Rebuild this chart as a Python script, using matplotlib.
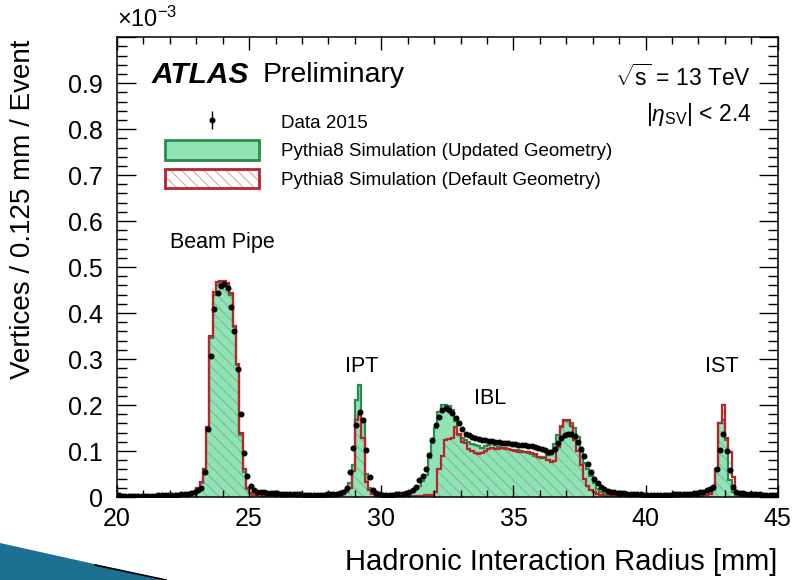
import numpy as np
import matplotlib
matplotlib.use('Agg')
import matplotlib.pyplot as plt
from matplotlib.patches import Patch, Polygon
from matplotlib.lines import Line2D
from matplotlib.ticker import MultipleLocator, FuncFormatter

plt.rcParams['font.family'] = ['Liberation Sans', 'DejaVu Sans']
plt.rcParams['mathtext.fontset'] = 'custom'
plt.rcParams['mathtext.rm'] = 'Liberation Sans'
plt.rcParams['mathtext.it'] = 'Liberation Sans:italic'
plt.rcParams['mathtext.bf'] = 'Liberation Sans:bold'
plt.rcParams['hatch.linewidth'] = 0.8

# 0.125 mm bins between 20 and 45 mm
r_min, r_max, bin_w = 20.0, 45.0, 0.125
edges = np.arange(r_min, r_max + bin_w / 2, bin_w)
centers = 0.5 * (edges[:-1] + edges[1:])

# vertices / 0.125 mm / event, in units of 1e-3
data_2015 = [
    0.004, 0.003, 0.003, 0.003, 0.003, 0.003, 0.003, 0.003, 0.003, 0.003,
    0.003, 0.003, 0.004, 0.004, 0.004, 0.004, 0.005, 0.005, 0.005, 0.006,
    0.006, 0.007, 0.008, 0.012, 0.016, 0.020, 0.055, 0.149, 0.306, 0.408,
    0.443, 0.459, 0.463, 0.454, 0.414, 0.360, 0.278, 0.180, 0.095, 0.045,
    0.024, 0.015, 0.012, 0.011, 0.010, 0.009, 0.009, 0.008, 0.008, 0.007,
    0.007, 0.007, 0.006, 0.006, 0.006, 0.006, 0.005, 0.005, 0.005, 0.005,
    0.005, 0.005, 0.005, 0.006, 0.006, 0.006, 0.007, 0.008, 0.011, 0.019,
    0.055, 0.106, 0.157, 0.185, 0.167, 0.102, 0.044, 0.015, 0.008, 0.006,
    0.005, 0.005, 0.005, 0.005, 0.006, 0.006, 0.007, 0.008, 0.012, 0.015,
    0.022, 0.037, 0.045, 0.060, 0.091, 0.124, 0.157, 0.175, 0.189, 0.193,
    0.189, 0.182, 0.171, 0.160, 0.149, 0.138, 0.134, 0.131, 0.128, 0.126,
    0.124, 0.123, 0.122, 0.121, 0.120, 0.119, 0.118, 0.117, 0.117, 0.116,
    0.115, 0.114, 0.113, 0.113, 0.112, 0.111, 0.109, 0.107, 0.105, 0.102,
    0.099, 0.099, 0.105, 0.118, 0.128, 0.134, 0.138, 0.137, 0.132, 0.120,
    0.104, 0.090, 0.072, 0.055, 0.040, 0.030, 0.022, 0.017, 0.013, 0.011,
    0.010, 0.009, 0.008, 0.008, 0.007, 0.007, 0.006, 0.006, 0.006, 0.005,
    0.005, 0.005, 0.005, 0.005, 0.005, 0.005, 0.005, 0.005, 0.006, 0.006,
    0.006, 0.006, 0.007, 0.007, 0.008, 0.009, 0.010, 0.012, 0.015, 0.018,
    0.022, 0.060, 0.102, 0.138, 0.100, 0.059, 0.022, 0.012, 0.009, 0.008,
    0.007, 0.007, 0.006, 0.006, 0.006, 0.005, 0.005, 0.005, 0.005, 0.005,
]

sim_updated = [
    0.002, 0.002, 0.002, 0.002, 0.002, 0.002, 0.002, 0.002, 0.002, 0.002,
    0.002, 0.002, 0.002, 0.002, 0.002, 0.002, 0.002, 0.002, 0.002, 0.002,
    0.003, 0.004, 0.006, 0.010, 0.018, 0.030, 0.060, 0.148, 0.345, 0.440,
    0.462, 0.465, 0.465, 0.460, 0.440, 0.370, 0.287, 0.135, 0.055, 0.018,
    0.008, 0.005, 0.004, 0.003, 0.003, 0.002, 0.002, 0.002, 0.002, 0.002,
    0.002, 0.002, 0.002, 0.002, 0.002, 0.002, 0.002, 0.002, 0.002, 0.002,
    0.002, 0.002, 0.002, 0.002, 0.002, 0.002, 0.003, 0.004, 0.008, 0.015,
    0.030, 0.070, 0.210, 0.243, 0.170, 0.050, 0.020, 0.008, 0.004, 0.003,
    0.002, 0.002, 0.002, 0.002, 0.003, 0.003, 0.004, 0.005, 0.008, 0.012,
    0.018, 0.025, 0.035, 0.048, 0.085, 0.117, 0.150, 0.185, 0.200, 0.200,
    0.197, 0.190, 0.165, 0.135, 0.128, 0.125, 0.120, 0.115, 0.113, 0.110,
    0.107, 0.110, 0.113, 0.117, 0.113, 0.108, 0.106, 0.106, 0.104, 0.103,
    0.102, 0.102, 0.100, 0.097, 0.095, 0.094, 0.090, 0.088, 0.087, 0.088,
    0.092, 0.100, 0.115, 0.135, 0.155, 0.165, 0.165, 0.160, 0.150, 0.130,
    0.100, 0.075, 0.062, 0.045, 0.030, 0.018, 0.010, 0.006, 0.004, 0.003,
    0.002, 0.002, 0.002, 0.002, 0.002, 0.002, 0.002, 0.002, 0.002, 0.002,
    0.002, 0.002, 0.002, 0.002, 0.002, 0.002, 0.002, 0.002, 0.002, 0.002,
    0.002, 0.002, 0.002, 0.002, 0.002, 0.002, 0.003, 0.004, 0.005, 0.006,
    0.015, 0.060, 0.160, 0.167, 0.124, 0.037, 0.010, 0.004, 0.002, 0.002,
    0.002, 0.002, 0.002, 0.002, 0.002, 0.002, 0.002, 0.002, 0.002, 0.002,
]

sim_default = [
    0.002, 0.002, 0.002, 0.002, 0.002, 0.002, 0.002, 0.002, 0.002, 0.002,
    0.002, 0.002, 0.002, 0.002, 0.002, 0.002, 0.002, 0.002, 0.002, 0.002,
    0.003, 0.004, 0.006, 0.010, 0.020, 0.032, 0.062, 0.152, 0.350, 0.446,
    0.468, 0.470, 0.470, 0.466, 0.443, 0.372, 0.290, 0.140, 0.060, 0.020,
    0.009, 0.005, 0.004, 0.003, 0.003, 0.002, 0.002, 0.002, 0.002, 0.002,
    0.002, 0.002, 0.002, 0.002, 0.002, 0.002, 0.002, 0.002, 0.002, 0.002,
    0.002, 0.002, 0.002, 0.002, 0.002, 0.002, 0.003, 0.004, 0.007, 0.012,
    0.020, 0.056, 0.167, 0.178, 0.128, 0.033, 0.015, 0.006, 0.003, 0.002,
    0.002, 0.002, 0.002, 0.002, 0.002, 0.002, 0.002, 0.003, 0.003, 0.003,
    0.003, 0.003, 0.003, 0.004, 0.004, 0.005, 0.012, 0.062, 0.090, 0.124,
    0.126, 0.128, 0.153, 0.138, 0.120, 0.118, 0.105, 0.100, 0.096, 0.094,
    0.096, 0.100, 0.104, 0.106, 0.105, 0.104, 0.106, 0.105, 0.104, 0.102,
    0.100, 0.099, 0.098, 0.098, 0.097, 0.096, 0.094, 0.088, 0.086, 0.085,
    0.080, 0.077, 0.078, 0.109, 0.153, 0.167, 0.167, 0.155, 0.124, 0.100,
    0.070, 0.040, 0.025, 0.015, 0.010, 0.006, 0.004, 0.003, 0.002, 0.002,
    0.002, 0.002, 0.002, 0.002, 0.002, 0.002, 0.002, 0.002, 0.002, 0.002,
    0.002, 0.002, 0.002, 0.002, 0.002, 0.002, 0.002, 0.002, 0.002, 0.002,
    0.002, 0.002, 0.002, 0.002, 0.002, 0.002, 0.003, 0.004, 0.005, 0.006,
    0.022, 0.062, 0.160, 0.200, 0.128, 0.098, 0.044, 0.010, 0.004, 0.002,
    0.002, 0.002, 0.002, 0.002, 0.002, 0.002, 0.002, 0.002, 0.002, 0.002,
]

# detector layer annotations: (label, x in mm, y in 1e-3)
layers = [("Beam Pipe", 23.97, 0.554), ("IPT", 29.27, 0.283),
          ("IBL", 34.1, 0.215), ("IST", 42.88, 0.283)]

green_fill = '#8fe3b4'
green_line = '#2b8a4c'
red_line = '#b8242a'
hatch_plot = (0.40, 0.48, 0.42, 0.40)
hatch_leg = '#e3a3a3'

fig = plt.figure(figsize=(8.01, 5.8), dpi=100)
ax = fig.add_axes([0.146, 0.143, 0.825, 0.793])

ax.stairs(sim_updated, edges, fill=True, facecolor=green_fill, edgecolor='none', linewidth=0)
ax.stairs(sim_default, edges, fill=True, facecolor='none', edgecolor=hatch_plot,
          hatch='\\\\\\', linewidth=0)
ax.stairs(sim_updated, edges, color=green_line, linewidth=1.6)
ax.stairs(sim_default, edges, color=red_line, linewidth=1.6)
eb = ax.errorbar(centers, data_2015, yerr=0.003, fmt='o', color='black',
                 markersize=3.3, elinewidth=1, capsize=0)

ax.set_xlim(r_min, r_max)
ax.set_ylim(0, 1.0)
ax.xaxis.set_major_locator(MultipleLocator(5))
ax.xaxis.set_minor_locator(MultipleLocator(1))
ax.yaxis.set_major_locator(MultipleLocator(0.1))
ax.yaxis.set_minor_locator(MultipleLocator(0.02))
ax.yaxis.set_major_formatter(FuncFormatter(
    lambda v, _: '0' if abs(v) < 1e-9 else ('' if v > 0.95 else f'{v:.1f}')))
ax.tick_params(which='both', direction='in', top=True, right=True, width=1.0,
               labelsize=18)
ax.tick_params(axis='x', which='major', length=9, pad=7.5)
ax.tick_params(axis='x', which='minor', length=5)
ax.tick_params(axis='y', which='major', length=14, pad=10)
ax.tick_params(axis='y', which='minor', length=7)
for s in ax.spines.values():
    s.set_linewidth(1.1)

ax.set_xlabel('Hadronic Interaction Radius [mm]', fontsize=21, loc='right')
ax.xaxis.set_label_coords(1.0, -0.11)
ax.set_ylabel('Vertices / 0.125 mm / Event', fontsize=20, loc='top')
ax.yaxis.set_label_coords(-0.122, 0.995)

ax.text(0.0, 1.012, r'$\times10^{-3}$', transform=ax.transAxes, fontsize=17,
        ha='left', va='bottom')

ax.text(0.053, 0.917, 'ATLAS', transform=ax.transAxes, fontsize=21.5,
        fontweight='bold', fontstyle='italic', va='center')
ax.text(0.22, 0.917, 'Preliminary', transform=ax.transAxes, fontsize=20.5,
        va='center')
ax.text(0.96, 0.912, r'$\sqrt{\mathrm{s}}$ = 13 TeV', transform=ax.transAxes,
        fontsize=16.5, ha='right', va='center')
ax.text(0.96, 0.832, r'|$\eta_{\mathrm{SV}}$| < 2.4', transform=ax.transAxes,
        fontsize=16.5, ha='right', va='center')

for name, x, y in layers:
    ax.text(x, y, name, fontsize=15.5, ha='center', va='center')

upd = Patch(facecolor=green_fill, edgecolor=green_line, linewidth=2)
dft = (Patch(facecolor='white', edgecolor=hatch_leg, hatch='\\\\\\', linewidth=0),
       Patch(facecolor='none', edgecolor=red_line, linewidth=2))
ax.legend([eb, upd, dft],
          ['Data 2015', 'Pythia8 Simulation (Updated Geometry)',
           'Pythia8 Simulation (Default Geometry)'],
          loc='upper left', bbox_to_anchor=(0.073, 0.837), frameon=False,
          fontsize=13.5, handlelength=5.0, handleheight=1.2, handletextpad=1.2,
          labelspacing=0.45, borderpad=0, borderaxespad=0)

# slide decoration in the lower left corner
fig.add_artist(Polygon([(0, 1 - 543 / 580), (166 / 801, 0), (0, 0)],
                       closed=True, transform=fig.transFigure,
                       facecolor='#1c7192', edgecolor='none'))
fig.add_artist(Line2D([95 / 801, 166 / 801], [1 - 565 / 580, 0],
                      transform=fig.transFigure, color='black', linewidth=1.2))

fig.savefig('out.png', dpi=100)
